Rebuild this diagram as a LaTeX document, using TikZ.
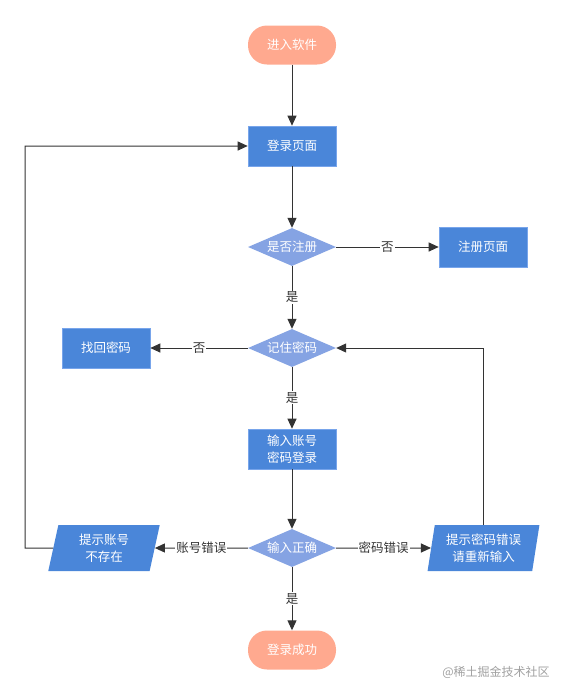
\documentclass[tikz,border=0pt]{standalone}
\usepackage{fontspec}
\newfontfamily\cjk{Noto Sans CJK SC}
\usetikzlibrary{arrows.meta}
\usetikzlibrary{shapes}
\definecolor{termFill}{RGB}{255,169,143}
\definecolor{boxFill}{RGB}{74,134,217}
\definecolor{boxLine}{RGB}{120,165,235}
\definecolor{diaFill}{RGB}{133,163,227}
\definecolor{lineGray}{RGB}{51,51,51}
\definecolor{markGray}{RGB}{160,160,160}

\begin{document}
\begin{tikzpicture}[x = 1pt, y = -1pt, font=\cjk\fontsize{12.5}{17}\selectfont]
	\tikzstyle{terminalStyle}=[shape = rectangle, rounded corners = 19pt, minimum width = 88pt, minimum height = 39pt, fill = termFill, text = white]
	\tikzstyle{processStyle}=[shape = rectangle, minimum width = 88pt, minimum height = 40pt, fill = boxFill, draw = boxLine, line width = 0.6pt, text = white, align = center]
	\tikzstyle{decisionStyle}=[shape = diamond, aspect = 2.3, inner sep = 0pt, minimum width = 88pt, minimum height = 38pt, fill = diaFill, text = white]
	\tikzstyle{ioStyle}=[shape = trapezium, trapezium left angle = 79, trapezium right angle = 101, trapezium stretches = true, minimum width = 112pt, minimum height = 46pt, inner sep = 0pt, fill = boxFill, text = white, align = center]
	\tikzstyle{EdgeStyle}=[draw = lineGray, line width = 1pt, -{Triangle[length = 10pt, width = 9pt]}]
	\tikzstyle{labelStyle}=[fill = white, text = lineGray, inner sep = 1pt]
	\useasboundingbox (0, 0) rectangle (567, 697);
	\node[terminalStyle] (start) at (292, 45) {进入软件};
	\node[processStyle] (login) at (292, 146) {登录页面};
	\node[decisionStyle] (isReg) at (292, 247) {是否注册};
	\node[processStyle] (reg) at (483, 247) {注册页面};
	\node[decisionStyle] (remember) at (292, 348) {记住密码};
	\node[processStyle] (findPwd) at (106, 348) {找回密码};
	\node[processStyle] (input) at (292, 449) {输入账号\\密码登录};
	\node[decisionStyle] (check) at (292, 548) {输入正确};
	\node[ioStyle] (noUser) at (104, 548) {提示账号\\不存在};
	\node[ioStyle] (wrongPwd) at (483.5, 548) {提示密码错误\\请重新输入};
	\node[terminalStyle] (success) at (292, 650) {登录成功};
	\coordinate (backLeft) at (25, 548);
	\draw[EdgeStyle] (start) -- (login);
	\draw[EdgeStyle] (login) -- (isReg);
	\draw[EdgeStyle] (isReg) -- node[labelStyle] {否} (reg);
	\draw[EdgeStyle] (isReg) -- node[labelStyle] {是} (remember);
	\draw[EdgeStyle] (remember) -- node[labelStyle] {否} (findPwd);
	\draw[EdgeStyle] (remember) -- node[labelStyle] {是} (input);
	\draw[EdgeStyle] (input) -- (check);
	\draw[EdgeStyle] (check) -- node[labelStyle] {账号错误} (noUser);
	\draw[EdgeStyle] (check) -- node[labelStyle] {密码错误} (wrongPwd);
	\draw[EdgeStyle] (check) -- node[labelStyle] {是} (success);
	\draw[EdgeStyle] (wrongPwd.north) |- (remember.east);
	\draw[EdgeStyle] (noUser.west) -- (backLeft) |- (login.west);
	\node[text = markGray, font = \cjk\fontsize{12}{14}\selectfont] (mark) at (496, 672) {@稀土掘金技术社区};
\end{tikzpicture}
\end{document}
